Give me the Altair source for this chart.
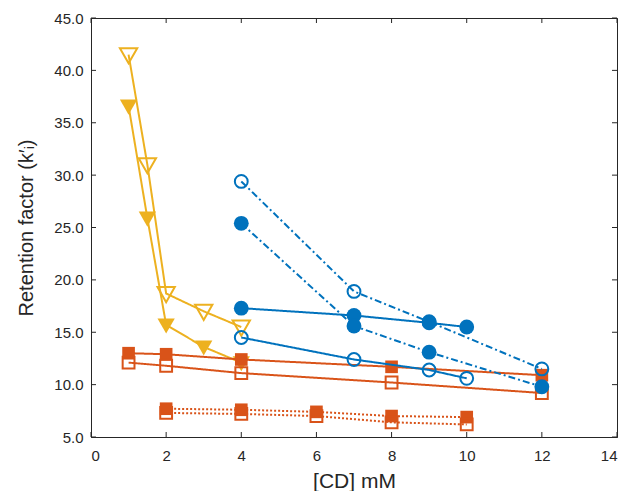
import altair as alt
import pandas as pd

# ---- data ----
tri_open_x = [1, 1.5, 2, 3, 4]
tri_open_y = [41.5, 31.0, 18.7, 17.0, 15.5]
tri_fill_x = [1, 1.5, 2, 3, 4]
tri_fill_y = [36.6, 25.9, 15.7, 13.6, 12.1]

sq_fill_solid_x = [1, 2, 4, 8, 12]
sq_fill_solid_y = [13.0, 12.9, 12.4, 11.7, 10.9]
sq_open_solid_x = [1, 2, 4, 8, 12]
sq_open_solid_y = [12.1, 11.8, 11.1, 10.2, 9.2]

sq_fill_dot_x = [2, 4, 6, 8, 10]
sq_fill_dot_y = [7.7, 7.6, 7.4, 7.0, 6.9]
sq_open_dot_x = [2, 4, 6, 8, 10]
sq_open_dot_y = [7.3, 7.2, 7.0, 6.4, 6.2]

ci_fill_solid_x = [4, 7, 9, 10]
ci_fill_solid_y = [17.3, 16.6, 15.9, 15.5]
ci_open_solid_x = [4, 7, 9, 10]
ci_open_solid_y = [14.5, 12.4, 11.4, 10.6]

ci_fill_dd_x = [4, 7, 9, 12]
ci_fill_dd_y = [25.4, 15.6, 13.1, 9.8]
ci_open_dd_x = [4, 7, 9, 12]
ci_open_dd_y = [29.4, 18.9, 16.0, 11.5]

x_ticks = [0, 2, 4, 6, 8, 10, 12, 14]
y_ticks = [5, 10, 15, 20, 25, 30, 35, 40, 45]

BLUE = "#0072BD"
ORANGE = "#D95319"
YELLOW = "#EDB120"
AX = "#262626"

W, H = 526, 419
xs = alt.Scale(domain=[0, 14], nice=False, zero=False)
ys = alt.Scale(domain=[5, 45], nice=False, zero=False)

xaxis = alt.Axis(values=x_ticks, format="d", title="[CD] mM", ticks=False,
                 grid=False, labelPadding=11, titlePadding=7,
                 labelFontSize=15, titleFontSize=21)
yaxis = alt.Axis(values=y_ticks, format=".1f", title="Retention factor (k′ᵢ)",
                 ticks=False, grid=False, labelPadding=8, titlePadding=17,
                 labelFontSize=15, titleFontSize=20)


def X(f):
    return alt.X(f, scale=xs, axis=xaxis)


def Y(f):
    return alt.Y(f, scale=ys, axis=yaxis)


TRI = "M-1,-0.75L1,-0.75L0,1Z"

series = [
    (tri_open_x, tri_open_y, YELLOW, TRI, False, [1, 0], 300),
    (tri_fill_x, tri_fill_y, YELLOW, TRI, True, [1, 0], 300),
    (sq_fill_solid_x, sq_fill_solid_y, ORANGE, "square", True, [1, 0], 160),
    (sq_open_solid_x, sq_open_solid_y, ORANGE, "square", False, [1, 0], 140),
    (sq_fill_dot_x, sq_fill_dot_y, ORANGE, "square", True, [2, 2], 160),
    (sq_open_dot_x, sq_open_dot_y, ORANGE, "square", False, [2, 2], 140),
    (ci_fill_solid_x, ci_fill_solid_y, BLUE, "circle", True, [1, 0], 220),
    (ci_open_solid_x, ci_open_solid_y, BLUE, "circle", False, [1, 0], 165),
    (ci_fill_dd_x, ci_fill_dd_y, BLUE, "circle", True, [7, 3, 2, 3], 220),
    (ci_open_dd_x, ci_open_dd_y, BLUE, "circle", False, [7, 3, 2, 3], 165),
]

layers = []
for sx, sy, col, shape, filled, dash, size in series:
    df = pd.DataFrame({"x": sx, "y": sy})
    line = alt.Chart(df).mark_line(color=col, strokeWidth=2, strokeDash=dash).encode(
        x=X("x:Q"), y=Y("y:Q"))
    if filled:
        pt = alt.Chart(df).mark_point(shape=shape, filled=True, fill=col, color=col,
                                      opacity=1, size=size, strokeWidth=1)
    else:
        pt = alt.Chart(df).mark_point(shape=shape, filled=False, color=col,
                                      opacity=1, size=size, strokeWidth=2)
    pt = pt.encode(x=X("x:Q"), y=Y("y:Q"))
    layers += [line, pt]

xt = pd.DataFrame({"t": x_ticks})
yt = pd.DataFrame({"t": y_ticks})
tk = 5
xb = alt.Chart(xt).mark_rule(color=AX, strokeWidth=1).encode(
    x=X("t:Q"), y=alt.value(H), y2=alt.value(H - tk))
xtop = alt.Chart(xt).mark_rule(color=AX, strokeWidth=1).encode(
    x=X("t:Q"), y=alt.value(0), y2=alt.value(tk))
yl = alt.Chart(yt).mark_rule(color=AX, strokeWidth=1).encode(
    y=Y("t:Q"), x=alt.value(0), x2=alt.value(tk))
yr = alt.Chart(yt).mark_rule(color=AX, strokeWidth=1).encode(
    y=Y("t:Q"), x=alt.value(W), x2=alt.value(W - tk))

chart = alt.layer(*layers, xb, xtop, yl, yr).properties(
    width=W, height=H,
    autosize=alt.AutoSizeParams(type="none"),
    padding={"left": 91, "top": 18, "right": 13, "bottom": 54},
    background="white",
).configure_view(stroke=AX, strokeWidth=1).configure_axis(
    domainColor=AX, domainWidth=1, labelColor=AX, titleColor=AX,
    labelFont="Liberation Sans", titleFont="Liberation Sans",
    titleFontWeight="normal",
)

chart.save("out.html", embed_options={"renderer": "svg", "actions": False})
